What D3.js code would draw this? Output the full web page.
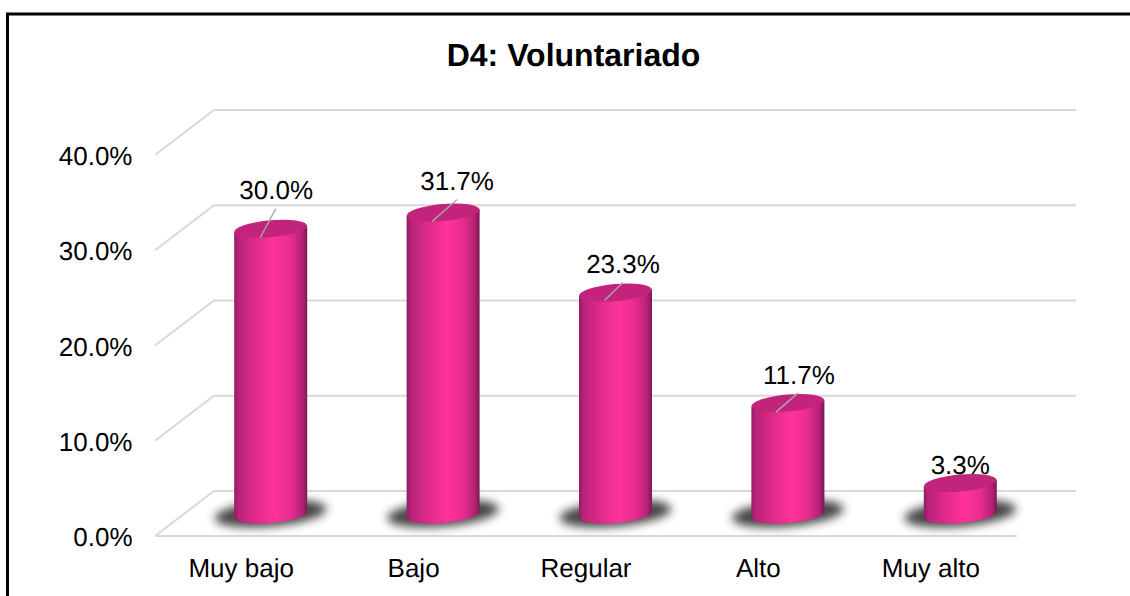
<!DOCTYPE html>
<html>
<head>
<meta charset="utf-8">
<script src="https://cdnjs.cloudflare.com/ajax/libs/d3/7.8.5/d3.min.js"></script>
<style>
  html, body { margin: 0; padding: 0; background: #fff; overflow: hidden; }
  svg { display: block; }
  text { font-family: "Liberation Sans", Arial, sans-serif; fill: #000; text-rendering: geometricPrecision; }
</style>
</head>
<body>
<div id="chart"></div>
<script>
// data
const categories = ["Muy bajo", "Bajo", "Regular", "Alto", "Muy alto"];
const values = [30.0, 31.7, 23.3, 11.7, 3.3];
const ticks = [0, 10, 20, 30, 40];

// layout
const WIDTH = 1130;
const HEIGHT = 596;
const DEPTH_X = 59;
const DEPTH_Y = -45;
const BAR_RX = 36.5;
const BAR_RY = 8.5;
const BAR_TILT = -5;
const BAR_BASE_SHIFT = 23.5; // from back wall floor line to the centre of a bar base
const LABEL_DX = [5.5, 14, 7.5, 11, 0];
const LABEL_LIFT = [29.5, 22.5, 19.5, 19, 9];
const LEADERS = [[5, -20, -10.5, 9], [14, -13, -11, 9], [7.4, -10, -11, 8], [10, -10, -12, 9], null];

const svg = d3.select("#chart").append("svg").attr("width", WIDTH).attr("height", HEIGHT);

// scales: front plane is the axis plane, back plane is offset by the depth
const y = d3.scaleLinear().domain([0, 40]).range([536, 155]);
const x = d3.scaleBand().domain(categories).range([155, 1017]);
const barX = d3.scaleBand().domain(categories).range([184.5, 1046.5]);

const defs = svg.append("defs");
const grad = defs.append("linearGradient").attr("id", "cyl");
[[0, "#8f1c61"], [0.06, "#b8237a"], [0.3, "#e02b8a"], [0.55, "#ff3399"], [0.78, "#e62c8d"], [0.93, "#b52277"], [1, "#7d1855"]]
  .forEach(s => grad.append("stop").attr("offset", s[0]).attr("stop-color", s[1]));
defs.append("filter").attr("id", "blur").attr("x", "-30%").attr("y", "-80%").attr("width", "160%").attr("height", "260%")
  .append("feGaussianBlur").attr("stdDeviation", 5);

// chart border, only left and top are inside the picture
svg.append("path").attr("d", `M7.5,${HEIGHT}V14H${WIDTH}`)
  .attr("fill", "none").attr("stroke", "#000").attr("stroke-width", 3);

svg.append("text").attr("x", 573.5).attr("y", 66).attr("text-anchor", "middle")
  .attr("font-size", 32).attr("font-weight", "bold").text("D4: Voluntariado");

// grid: back wall lines and the slanted side wall
const grid = svg.append("g").attr("stroke", "#d9d9d9").attr("stroke-width", 2).attr("fill", "none");
grid.selectAll("path").data(ticks).enter().append("path")
  .attr("d", d => `M${x.range()[0]},${y(d)}L${x.range()[0] + DEPTH_X},${y(d) + DEPTH_Y}L${x.range()[1] + DEPTH_X},${y(d) + DEPTH_Y}`);
grid.append("line").attr("x1", x.range()[0]).attr("x2", x.range()[1]).attr("y1", y(0)).attr("y2", y(0));

svg.append("g").selectAll("text").data(ticks).enter().append("text")
  .attr("x", 132.5).attr("y", d => y(d) + 10).attr("text-anchor", "end").attr("font-size", 26)
  .text(d => d.toFixed(1) + "%");

svg.append("g").selectAll("text").data(categories).enter().append("text")
  .attr("x", d => x(d) + x.bandwidth() / 2).attr("y", 577).attr("text-anchor", "middle").attr("font-size", 26)
  .text(d => d);

// bars
const rows = categories.map((c, i) => ({
  c, v: values[i], i,
  cx: barX(c) + barX.bandwidth() / 2,
  top: y(values[i]) + DEPTH_Y + BAR_BASE_SHIFT,
  base: y(0) + DEPTH_Y + BAR_BASE_SHIFT
}));

const tilt = Math.tan(BAR_TILT * Math.PI / 180) * BAR_RX;
const bars = svg.append("g").selectAll("g").data(rows).enter().append("g");

bars.append("ellipse").attr("cx", d => d.cx).attr("cy", d => d.base - 1)
  .attr("rx", 56).attr("ry", 13).attr("fill", "#333").attr("opacity", 0.9)
  .attr("transform", d => `rotate(${BAR_TILT} ${d.cx} ${d.base})`)
  .attr("filter", "url(#blur)");

// cylinder: round base, straight body, then the top cap
bars.append("ellipse").attr("cx", d => d.cx).attr("cy", d => d.base)
  .attr("rx", BAR_RX).attr("ry", BAR_RY)
  .attr("transform", d => `rotate(${BAR_TILT} ${d.cx} ${d.base})`)
  .attr("fill", "url(#cyl)");

bars.append("polygon").attr("fill", "url(#cyl)").attr("points", d => [
  [d.cx - BAR_RX, d.top - tilt], [d.cx - BAR_RX, d.base - tilt],
  [d.cx + BAR_RX, d.base + tilt], [d.cx + BAR_RX, d.top + tilt]
].join(" "));

bars.append("ellipse").attr("cx", d => d.cx).attr("cy", d => d.top)
  .attr("rx", BAR_RX).attr("ry", BAR_RY)
  .attr("transform", d => `rotate(${BAR_TILT} ${d.cx} ${d.top})`)
  .attr("fill", "#c2247c");

// leader lines and data labels
bars.filter(d => LEADERS[d.i]).append("line")
  .attr("x1", d => d.cx + LEADERS[d.i][0]).attr("y1", d => d.top + LEADERS[d.i][1])
  .attr("x2", d => d.cx + LEADERS[d.i][2]).attr("y2", d => d.top + LEADERS[d.i][3])
  .attr("stroke", "#a6a6a6").attr("stroke-width", 1.5);

bars.append("text").attr("x", d => d.cx + LABEL_DX[d.i]).attr("y", d => d.top - LABEL_LIFT[d.i])
  .attr("text-anchor", "middle").attr("font-size", 26)
  .text(d => d.v.toFixed(1) + "%");
</script>
</body>
</html>
